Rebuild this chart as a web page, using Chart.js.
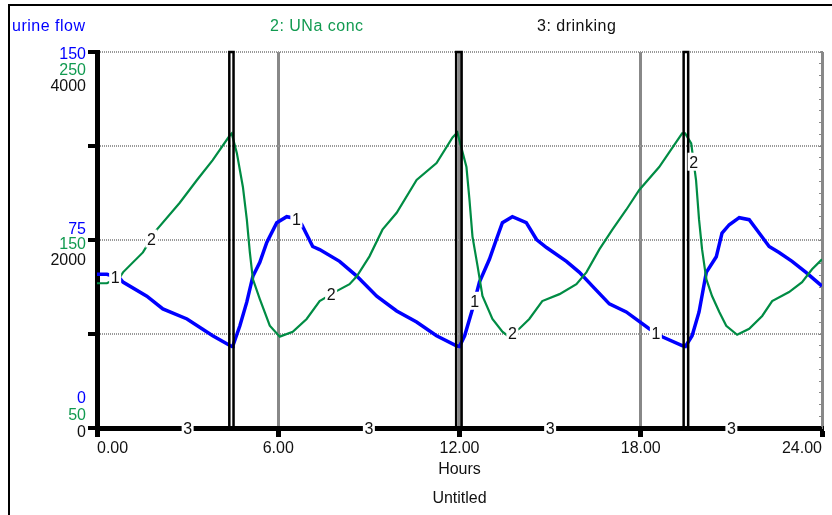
<!DOCTYPE html>
<html>
<head>
<meta charset="utf-8">
<script src="https://cdn.jsdelivr.net/npm/chart.js@4/dist/chart.umd.min.js"></script>
<style>
  body { margin: 0; background: #fff; }
  canvas { display: block; }
</style>
</head>
<body>
<canvas id="chart-area" width="832" height="515"></canvas>
<script>
// 1: urine flow (left blue scale 0-150)
const flowHours = [0, 0.33, 0.75, 0.86, 1.65, 2.18, 2.98, 3.83, 4.40, 4.47, 4.50, 4.73, 4.96, 5.16, 5.39,
  5.62, 5.95, 6.28, 6.61, 6.78, 7.14, 7.37, 8.03, 8.60, 9.26, 9.92, 10.58, 11.24, 11.90, 12.0,
  12.17, 12.43, 12.66, 12.99, 13.22, 13.42, 13.75, 14.21, 14.55, 14.88, 15.54, 15.97, 16.40, 16.96, 17.52,
  18.28, 18.71, 19.37, 19.48, 19.70, 19.93, 20.17, 20.50, 20.69, 20.93, 21.26, 21.59, 21.92, 22.25, 22.58,
  23.01, 23.47, 24.0];
const flowValues = [61.3, 61.3, 59.8, 58.2, 52.6, 47.5, 43.5, 36.8, 32.9, 32.5, 32.8, 40.8, 50.3, 60.5, 66.1,
  74.0, 81.9, 84.3, 83.5, 81.1, 72.4, 71.2, 66.5, 60.6, 52.6, 46.7, 42.3, 36.8, 32.8, 32.5,
  36.8, 47.5, 58.2, 67.3, 75.2, 81.9, 84.3, 81.9, 75.2, 72.0, 66.5, 62.1, 56.6, 49.5, 46.3,
  39.6, 36.4, 32.9, 32.5, 36.8, 46.3, 62.1, 68.3, 77.8, 81.1, 83.9, 83.1, 77.8, 72.4, 70.0,
  66.5, 62.1, 56.6];

// 2: UNa conc (green scale 50-250)
const concHours = [0, 0.33, 0.78, 0.86, 1.52, 1.98, 2.74, 3.31, 3.83, 4.40, 4.46, 4.63, 4.83, 4.96, 5.06,
  5.16, 5.39, 5.72, 6.05, 6.48, 6.94, 7.37, 7.93, 8.36, 8.60, 9.02, 9.45, 9.92, 10.58, 11.24,
  11.77, 11.93, 12.23, 12.33, 12.43, 12.60, 12.76, 13.09, 13.42, 13.59, 13.98, 14.31, 14.74, 15.31, 15.87,
  16.20, 16.63, 17.06, 17.52, 17.95, 18.61, 19.37, 19.47, 19.67, 19.83, 19.93, 20.03, 20.17, 20.36, 20.60,
  20.83, 21.19, 21.59, 22.02, 22.35, 22.91, 23.34, 23.67, 24.0];
const concValues = [127.0, 127.0, 130.7, 132.8, 143.4, 155.5, 169.8, 181.9, 192.5, 205.7, 206.7, 196.2, 178.2, 160.8, 143.4,
  129.2, 118.6, 104.4, 98.6, 101.2, 108.0, 117.5, 122.8, 126.5, 130.7, 141.3, 155.5, 164.5, 181.9, 190.9,
  204.6, 207.2, 188.8, 171.4, 151.8, 136.0, 120.2, 108.0, 101.2, 99.1, 102.8, 108.0, 117.5, 121.2, 126.5,
  132.8, 145.0, 155.5, 166.1, 176.6, 188.8, 206.7, 206.7, 201.4, 181.9, 160.8, 145.0, 129.2, 120.2, 111.7,
  104.4, 99.6, 102.8, 109.6, 117.5, 122.3, 127.6, 134.4, 139.7];

// 3: drinking (black scale 0-4000), short pulses
const drinkHours = [0, 4.38, 4.38, 4.52, 4.52, 11.89, 11.89, 12.07, 12.07, 19.42, 19.42, 19.57, 19.57, 24];
const drinkValues = [0, 0, 4000, 4000, 0, 0, 4000, 4000, 0, 0, 4000, 4000, 0, 0];

// where the curve numbers sit (hours)
const flowMarks = [0.6, 6.6, 12.5, 18.5];
const concMarks = [1.8, 7.75, 13.75, 19.75];
const drinkMarks = [3, 9, 15, 21];

// axis labels (bottom, middle, top)
const flowTicks = [0, 75, 150];
const concTicks = [50, 150, 250];
const drinkTicks = [0, 2000, 4000];
const hourTicks = [0, 6, 12, 18, 24];

const FONT = '16px "Liberation Sans", Arial, sans-serif';
const BLUE = '#0000ff';
const GREEN = '#008c44';
const GREEN_TEXT = '#119a50';

Chart.defaults.font.family = '"Liberation Sans", Arial, sans-serif';
Chart.defaults.font.size = 16;

const toPoints = (hs, vs) => hs.map((h, i) => ({x: h, y: vs[i]}));

// linear lookup on a series, used to put the "1" "2" "3" tags on the lines
function valueAt(hs, vs, t) {
  for (let i = 1; i < hs.length; i++) {
    if (hs[i] >= t && hs[i] > hs[i - 1]) {
      const f = (t - hs[i - 1]) / (hs[i] - hs[i - 1]);
      return vs[i - 1] + f * (vs[i] - vs[i - 1]);
    }
  }
  return vs[vs.length - 1];
}

const stellaPlugin = {
  id: 'stella',
  beforeDraw(chart) {
    const ctx = chart.ctx;
    ctx.save();
    ctx.fillStyle = '#000';
    ctx.fillRect(8, 4, 824, 2);   // frame top
    ctx.fillRect(8, 4, 2, 511);   // frame left
    ctx.restore();
  },
  afterDatasetsDraw(chart) {
    const ctx = chart.ctx;
    const x = chart.scales.x;
    const tags = [
      ['1', flowHours, flowValues, flowMarks, chart.scales.y],
      ['2', concHours, concValues, concMarks, chart.scales.yConc],
      ['3', drinkHours, drinkValues, drinkMarks, chart.scales.yDrink]
    ];
    ctx.save();
    ctx.font = FONT;
    ctx.textAlign = 'center';
    ctx.textBaseline = 'alphabetic';
    tags.forEach(([txt, hs, vs, marks, scale]) => {
      marks.forEach(t => {
        const px = x.getPixelForValue(t);
        const py = scale.getPixelForValue(valueAt(hs, vs, t));
        ctx.fillStyle = '#fff';
        ctx.fillRect(px - 6, py - 9, 12, 18);
        ctx.fillStyle = '#111';
        ctx.fillText(txt, px, py + 6);
      });
    });
    ctx.restore();
  },
  afterDraw(chart) {
    const ctx = chart.ctx;
    const y = chart.scales.y;
    ctx.save();
    ctx.font = FONT;
    ctx.textBaseline = 'alphabetic';

    // legend line
    ctx.textAlign = 'left';
    ctx.letterSpacing = '0.5px';
    const ds = chart.data.datasets;
    ctx.fillStyle = BLUE;
    ctx.fillText(ds[0].label, 12, 31);
    ctx.fillStyle = GREEN_TEXT;
    ctx.fillText(ds[1].label, 270, 31);
    ctx.fillStyle = '#111';
    ctx.fillText(ds[2].label, 537, 31);
    ctx.letterSpacing = '0px';

    // stacked tick labels of the three left scales
    const offsets = [[-31, -14, 3], [-12.5, 3, 19], [0.5, 17, 32.5]];
    ctx.textAlign = 'right';
    flowTicks.forEach((v, i) => {
      const py = y.getPixelForValue(v);
      const off = offsets[i];
      ctx.fillStyle = BLUE;
      ctx.fillText(String(flowTicks[i]), 86, py + off[0] + 6);
      ctx.fillStyle = GREEN_TEXT;
      ctx.fillText(String(concTicks[i]), 86, py + off[1] + 6);
      ctx.fillStyle = '#111';
      ctx.fillText(String(drinkTicks[i]), 86, py + off[2] + 6);
    });
    ctx.restore();
  }
};

const ctx = document.getElementById('chart-area').getContext('2d');
window.myLine = new Chart(ctx, {
  type: 'line',
  data: {
    datasets: [{
      label: 'urine flow',
      data: toPoints(flowHours, flowValues),
      yAxisID: 'y',
      borderColor: BLUE,
      borderWidth: 3.5,
      order: 2
    }, {
      label: '2: UNa conc',
      data: toPoints(concHours, concValues),
      yAxisID: 'yConc',
      borderColor: GREEN,
      borderWidth: 2.2,
      order: 1
    }, {
      label: '3: drinking',
      data: toPoints(drinkHours, drinkValues),
      yAxisID: 'yDrink',
      borderColor: '#000',
      borderWidth: 2.5,
      clip: 4,
      order: 0
    }]
  },
  options: {
    responsive: false,
    animation: false,
    devicePixelRatio: 1,
    elements: { point: { radius: 0 }, line: { tension: 0 } },
    layout: { padding: { top: 52, right: 10, bottom: 0, left: 0 } },
    plugins: { legend: { display: false }, tooltip: { enabled: false } },
    scales: {
      x: {
        type: 'linear',
        min: 0,
        max: 24,
        afterFit: s => { s.height = 87; },
        afterBuildTicks: s => { s.ticks = hourTicks.map(v => ({value: v})); },
        ticks: {
          align: 'inner',
          padding: 2,
          color: '#111',
          maxRotation: 0,
          autoSkip: false,
          callback: v => v.toFixed(2)
        },
        grid: {
          color: c => (c.tick && c.tick.value === 0) ? 'rgba(0,0,0,0)' : '#888',
          lineWidth: 3,
          tickColor: '#000',
          tickWidth: 5,
          tickLength: 9
        },
        border: { color: '#000', width: 5 },
        title: {
          display: true,
          text: ['Hours', 'Untitled'],
          color: '#111',
          font: { size: 16, lineHeight: 1.8 },
          padding: { top: 0, bottom: 2 }
        }
      },
      y: {
        position: 'left',
        min: 0,
        max: 150,
        afterFit: s => { s.width = 97; },
        ticks: { display: false, stepSize: 37.5 },
        grid: {
          color: c => (c.tick && c.tick.value === 0) ? 'rgba(0,0,0,0)' : '#999',
          lineWidth: 2,
          tickColor: '#000',
          tickWidth: 4,
          tickLength: 9,
          tickBorderDash: []
        },
        border: { color: '#000', width: 5, dash: [1, 1] }
      },
      yConc: { display: false, min: 50, max: 250 },
      yDrink: { display: false, min: 0, max: 4000 },
      yEdge: {
        position: 'right',
        min: 0,
        max: 32,
        afterFit: s => { s.width = 0; },
        ticks: { display: false, stepSize: 1, autoSkip: false },
        grid: { drawOnChartArea: false, color: '#888', tickColor: '#888', tickWidth: 1, tickLength: -3 },
        border: { color: '#888', width: 2 }
      }
    }
  },
  plugins: [stellaPlugin]
});
</script>
</body>
</html>
